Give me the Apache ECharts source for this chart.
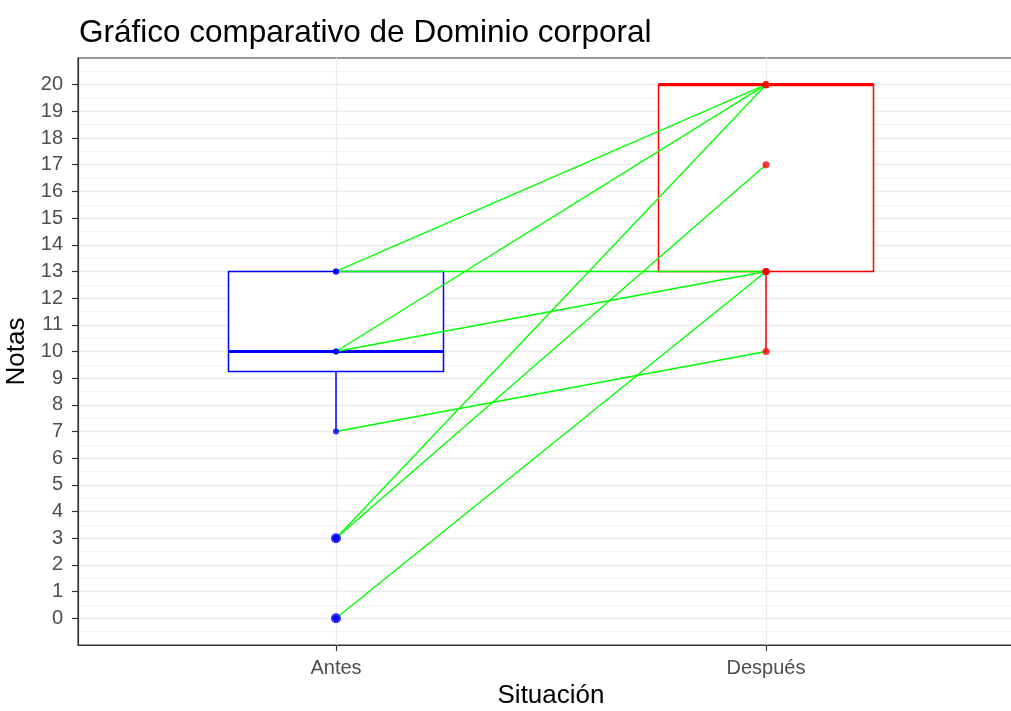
<!DOCTYPE html>
<html>
<head>
    <meta charset="utf-8">
    <script src="https://cdn.jsdelivr.net/npm/echarts@6/dist/echarts.min.js"></script>
</head>
<body style="margin:0">
    <div id="container" style="width: 1011px;height: 711px;"></div>

    <script type="text/javascript">
        // categorias del eje x (posiciones 1 y 2)
        var categories = ['Antes', 'Después'];
        // min, Q1, mediana, Q3, max
        var antesStats = [7, 9.25, 10, 13, 13];
        var despuesStats = [10, 13, 20, 20, 20];
        var antesOutliers = [0, 3];
        // notas emparejadas de cada alumno
        var notasAntes = [13, 10, 3, 3, 13, 10, 0, 7];
        var notasDespues = [20, 20, 20, 17, 13, 13, 13, 10];
        var yTicks = [];
        for (var t = 0; t <= 20; t++) yTicks.push(t);

        var boxColors = ['#0000ff', '#ff0000'];
        var font = '"Liberation Sans", Arial, sans-serif';

        var dom = document.getElementById("container");
        var myChart = echarts.init(dom);

        var boxData = [[1].concat(antesStats), [2].concat(despuesStats)];

        // lineas verdes entre antes y despues
        var pairSeries = [];
        for (var i = 0; i < notasAntes.length; i++) {
            pairSeries.push({
                type: 'line',
                data: [[1, notasAntes[i]], [2, notasDespues[i]]],
                symbol: 'none',
                silent: true,
                lineStyle: { color: '#00ff00', width: 1.4 },
                z: 3
            });
        }

        var option = {
            animation: false,
            title: {
                text: 'Gráfico comparativo de Dominio corporal',
                left: 74,
                top: 12,
                textStyle: { fontFamily: font, fontSize: 31.5, fontWeight: 'normal', color: '#000' }
            },
            grid: {
                left: 78, right: -13, top: 58, bottom: 66,
                outerBoundsMode: 'none',
                show: true, borderColor: '#333', borderWidth: 1.2
            },
            xAxis: {
                type: 'value',
                min: 0.4,
                max: 2.6,
                name: 'Situación',
                nameLocation: 'middle',
                nameGap: 38,
                nameTextStyle: { fontFamily: font, fontSize: 26, color: '#000' },
                axisLine: { show: true, onZero: false, lineStyle: { color: '#333', width: 1.2 } },
                axisTick: { show: true, length: 6, customValues: [1, 2], lineStyle: { color: '#333', width: 1.2 } },
                axisLabel: {
                    customValues: [1, 2],
                    margin: 13,
                    fontFamily: font, fontSize: 20, color: '#4d4d4d',
                    formatter: function (v) { return categories[Math.round(v) - 1] || ''; }
                },
                splitLine: { show: false }
            },
            yAxis: {
                type: 'value',
                min: -1,
                max: 21,
                interval: 1,
                name: 'Notas',
                nameLocation: 'middle',
                nameRotate: 90,
                nameGap: 42,
                nameTextStyle: { fontFamily: font, fontSize: 26, color: '#000' },
                axisLine: { show: true, onZero: false, lineStyle: { color: '#333', width: 1.2 } },
                axisTick: { show: true, length: 6, customValues: yTicks, lineStyle: { color: '#333', width: 1.2 } },
                axisLabel: {
                    customValues: yTicks,
                    margin: 15,
                    fontFamily: font, fontSize: 20, color: '#4d4d4d'
                },
                splitLine: { show: true, lineStyle: { color: '#ebebeb', width: 1.3 } },
                minorTick: { show: false, splitNumber: 2 },
                minorSplitLine: { show: true, lineStyle: { color: '#f0f0f0', width: 1 } }
            },
            series: [
                {
                    // rejilla vertical en cada categoria
                    type: 'line',
                    data: [],
                    markLine: {
                        silent: true,
                        symbol: 'none',
                        label: { show: false },
                        z: 1,
                        lineStyle: { color: '#ebebeb', width: 1.3, type: 'solid' },
                        data: [{ xAxis: 1 }, { xAxis: 2 }]
                    }
                },
                {
                    type: 'custom',
                    data: boxData,
                    z: 2,
                    silent: true,
                    renderItem: function (params, api) {
                        var x = api.value(0);
                        var mn = api.value(1), q1 = api.value(2), md = api.value(3), q3 = api.value(4), mx = api.value(5);
                        var color = boxColors[params.dataIndex];
                        var tl = api.coord([x - 0.25, q3]);
                        var br = api.coord([x + 0.25, q1]);
                        var ml = api.coord([x - 0.25, md]);
                        var mr = api.coord([x + 0.25, md]);
                        var pq1 = api.coord([x, q1]), pmn = api.coord([x, mn]);
                        var pq3 = api.coord([x, q3]), pmx = api.coord([x, mx]);
                        var children = [
                            {
                                type: 'rect',
                                shape: { x: tl[0], y: tl[1], width: br[0] - tl[0], height: br[1] - tl[1] },
                                style: { fill: '#fff', stroke: color, lineWidth: 1.5 }
                            },
                            {
                                type: 'line',
                                shape: { x1: ml[0], y1: ml[1], x2: mr[0], y2: mr[1] },
                                style: { stroke: color, lineWidth: 3.2 }
                            }
                        ];
                        if (mn < q1) {
                            children.push({
                                type: 'line',
                                shape: { x1: pq1[0], y1: pq1[1], x2: pmn[0], y2: pmn[1] },
                                style: { stroke: color, lineWidth: 1.5 }
                            });
                        }
                        if (mx > q3) {
                            children.push({
                                type: 'line',
                                shape: { x1: pq3[0], y1: pq3[1], x2: pmx[0], y2: pmx[1] },
                                style: { stroke: color, lineWidth: 1.5 }
                            });
                        }
                        return { type: 'group', children: children };
                    }
                }
            ].concat(pairSeries).concat([
                {
                    type: 'scatter',
                    data: notasAntes.map(function (v) { return [1, v]; }),
                    symbolSize: 6,
                    itemStyle: { color: '#0000ff' },
                    z: 4
                },
                {
                    type: 'scatter',
                    data: antesOutliers.map(function (v) { return [1, v]; }),
                    symbolSize: 10,
                    itemStyle: { color: '#0000ff' },
                    z: 4
                },
                {
                    type: 'scatter',
                    data: notasDespues.map(function (v) { return [2, v]; }),
                    symbolSize: 7,
                    itemStyle: { color: '#ff0000' },
                    z: 4
                }
            ])
        };
        myChart.setOption(option);
    </script>
</body>
</html>
